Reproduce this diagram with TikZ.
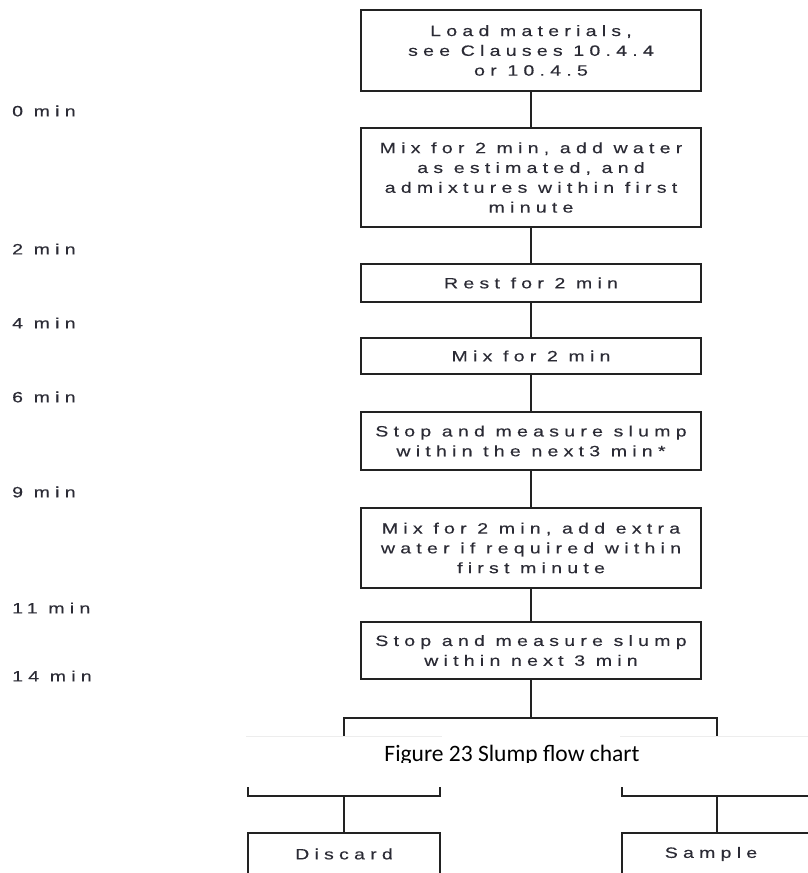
\documentclass[tikz,border=0pt]{standalone}
\usepackage{fontspec}
\setmainfont{Liberation Sans}
\newfontfamily\boxfont[LetterSpace=35,FakeStretch=1.3,FakeBold=0.3,Ligatures=NoCommon]{Liberation Sans}
\newfontfamily\capfont{Carlito}
\definecolor{linec}{HTML}{222222}
\definecolor{textc}{HTML}{2B2B35}
\begin{document}
\begin{tikzpicture}[x=1pt,y=-1pt,
  box/.style={draw=linec, line width=2pt, rectangle, inner sep=0pt, align=center,
    minimum width=340pt, font=\boxfont\fontsize{15}{19.8}\selectfont, text=textc},
  lowbox/.style={box, minimum width=192pt},
  lbl/.style={anchor=west, inner sep=0pt, font=\boxfont\fontsize{15}{17}\selectfont, text=textc},
  conn/.style={draw=linec, line width=2pt}]
\useasboundingbox (0,0) rectangle (808,873);
\begin{scope}
\clip (0,0) rectangle (808,873);
% main column
\node[box, minimum height=81pt] (b1) at (531,50.5) {Load materials,\\see Clauses 10.4.4\\or 10.4.5};
\node[box, minimum height=99pt] (b2) at (531,177.5) {Mix for 2 min, add water\\as estimated, and\\admixtures within first\\minute};
\node[box, minimum height=38pt] (b3) at (531,283) {Rest for 2 min};
\node[box, minimum height=36pt] (b4) at (531,356) {Mix for 2 min};
\node[box, minimum height=58pt] (b5) at (531,441) {Stop and measure slump\\within the next3 min*};
\node[box, minimum height=80pt] (b6) at (531,548) {Mix for 2 min, add extra\\water if required within\\first minute};
\node[box, minimum height=57pt] (b7) at (531,650.5) {Stop and measure slump\\within next 3 min};
% branch boxes (tops hidden by caption band)
\node[lowbox, minimum height=51pt] (hl) at (344,770.5) {};
\node[lowbox, minimum height=51pt, minimum width=190pt] (hr) at (717,770.5) {};
\node[lowbox, minimum height=42pt] (dis) at (344,854) {Discard};
\node[lowbox, minimum height=42pt, minimum width=190pt] (sam) at (717,854) {Sample\hspace*{12pt}};
\coordinate (br) at (531,718);
% connectors
\draw[conn] (b1.south) -- (b2.north);
\draw[conn] (b2.south) -- (b3.north);
\draw[conn] (b3.south) -- (b4.north);
\draw[conn] (b4.south) -- (b5.north);
\draw[conn] (b5.south) -- (b6.north);
\draw[conn] (b6.south) -- (b7.north);
\draw[conn] (b7.south) -- (br);
\draw[conn] (hl.north) |- (br) -| (hr.north);
\draw[conn] (hl.south) -- (dis.north);
\draw[conn] (hr.south) -- (sam.north);
% caption band
\fill[white] (246,736) rectangle (812,787);
\draw[black!7, line width=0.8pt] (246,736) -- (442,736);
\draw[black!7, line width=0.8pt] (620,736) -- (808,736);
\end{scope}
\begin{scope}
\clip (240,736) rectangle (808,762);
\node[font=\capfont\fontsize{23.5}{26}\selectfont, anchor=base, inner sep=0pt, text=black] (cap) at (512,761) {Figure 23 Slump flow chart};
\end{scope}
% time labels
\node[lbl] (t0) at (12,111) {0 min};
\node[lbl] (t2) at (12,249) {2 min};
\node[lbl] (t4) at (12,323) {4 min};
\node[lbl] (t6) at (12,397) {6 min};
\node[lbl] (t9) at (12,492) {9 min};
\node[lbl] (t11) at (12,608) {11 min};
\node[lbl] (t14) at (12,676) {14 min};
\end{tikzpicture}
\end{document}
